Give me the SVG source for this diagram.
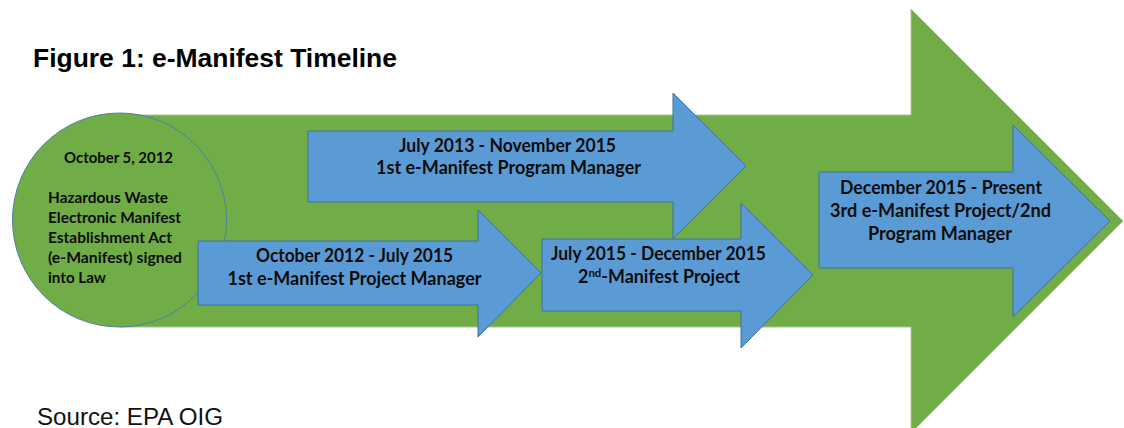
<svg xmlns="http://www.w3.org/2000/svg" width="1124" height="428" viewBox="0 0 1124 428">
<style>
.bg{fill:#ffffff}
.green{fill:#70AD47;stroke:#A9C496;stroke-width:1}
.circ{fill:#70AD47;stroke:#4F7FA8;stroke-width:1}
.blue{fill:#5B9BD5;stroke:#41719C;stroke-width:1}
.t{font-family:Lato,"Open Sans","Liberation Sans",sans-serif;font-weight:bold;fill:#0d0d0d}
.ct{font-size:15.5px}
.at{font-size:18px;text-anchor:middle}
.title{font-family:"Liberation Sans",Arial,sans-serif;font-weight:bold;font-size:26px;fill:#000}
.src{font-family:"Liberation Sans",Arial,sans-serif;font-size:23.5px;fill:#111}
</style>
<rect class="bg" x="0" y="0" width="1124" height="428"/>
<g id="title"><text class="title" x="33" y="67" textLength="364" lengthAdjust="spacingAndGlyphs">Figure 1: e-Manifest Timeline</text></g>
<g id="timeline">
<polygon class="green" points="120,115 911,115 911,9 1123,221 911,433 911,327 120,327"/>
</g>
<g id="law">
<circle class="circ" cx="119.5" cy="220" r="107"/>
<text class="t ct" x="118.5" y="163" text-anchor="middle" textLength="109" lengthAdjust="spacingAndGlyphs">October 5, 2012</text>
<text class="t ct" x="48" y="203" textLength="120" lengthAdjust="spacingAndGlyphs">Hazardous Waste</text>
<text class="t ct" x="48" y="223" textLength="133" lengthAdjust="spacingAndGlyphs">Electronic Manifest</text>
<text class="t ct" x="48" y="243" textLength="124" lengthAdjust="spacingAndGlyphs">Establishment Act</text>
<text class="t ct" x="48" y="263" textLength="134" lengthAdjust="spacingAndGlyphs">(e-Manifest) signed</text>
<text class="t ct" x="48" y="283" textLength="58" lengthAdjust="spacingAndGlyphs">into Law</text>
</g>
<g id="program-manager-1">
<polygon class="blue" points="308,131 673,131 673,93 746,166 673,239 673,202 308,202"/>
<text class="t at" x="507.5" y="152" textLength="217" lengthAdjust="spacingAndGlyphs">July 2013 - November 2015</text>
<text class="t at" x="508.5" y="174" textLength="265" lengthAdjust="spacingAndGlyphs">1st e-Manifest Program Manager</text>
</g>
<g id="project-manager-1">
<polygon class="blue" points="198,241 478,241 478,210 541,273 478,337 478,305 198,305"/>
<text class="t at" x="354.5" y="262" textLength="197" lengthAdjust="spacingAndGlyphs">October 2012 - July 2015</text>
<text class="t at" x="354.5" y="285" textLength="254" lengthAdjust="spacingAndGlyphs">1st e-Manifest Project Manager</text>
</g>
<g id="project-manager-2">
<polygon class="blue" points="542,239 741,239 741,203 813,275 741,348 741,311 542,311"/>
<text class="t at" x="658.5" y="260" textLength="215" lengthAdjust="spacingAndGlyphs">July 2015 - December 2015</text>
<text class="t at" x="659" y="283" textLength="162" lengthAdjust="spacingAndGlyphs">2<tspan font-size="11.5" baseline-shift="6">nd</tspan>-Manifest Project</text>
</g>
<g id="present">
<polygon class="blue" points="819,172 1013,172 1013,125 1110,221 1013,317 1013,268 819,268"/>
<text class="t at" x="941" y="194" textLength="202" lengthAdjust="spacingAndGlyphs">December 2015 - Present</text>
<text class="t at" x="940.5" y="217" textLength="221" lengthAdjust="spacingAndGlyphs">3rd e-Manifest Project/2nd</text>
<text class="t at" x="940" y="240" textLength="144" lengthAdjust="spacingAndGlyphs">Program Manager</text>
</g>
<g id="connectors"></g>
<g id="source"><text class="src" x="37" y="425" textLength="186" lengthAdjust="spacingAndGlyphs">Source: EPA OIG</text></g>
</svg>
